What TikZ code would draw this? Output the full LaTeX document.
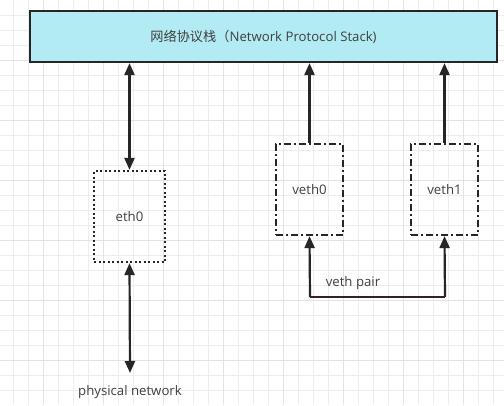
\documentclass[tikz,border=0pt]{standalone}
\usepackage{xcolor}
\usepackage{fontspec}
\setmainfont{Open Sans}
\newfontfamily\cjk{Noto Sans CJK SC}
\usepackage{tikz}
\usetikzlibrary{arrows.meta,positioning,shapes,calc}

\definecolor{stackfill}{RGB}{178,235,243}
\definecolor{linedark}{RGB}{38,38,38}
\definecolor{textgray}{RGB}{64,64,64}
\definecolor{pairline}{RGB}{58,32,36}

\begin{document}
\begin{tikzpicture}[x=1pt,y=-1pt,
  gridminor/.style={draw=black!7,line width=0.8pt},
  gridmajor/.style={draw=black!11,line width=0.8pt},
  stackbox/.style={draw=linedark,line width=2.2pt,fill=stackfill,minimum width=467pt,minimum height=51pt,inner sep=0pt},
  iface/.style={draw=linedark,line width=2.2pt,minimum width=71pt,minimum height=91pt,inner sep=0pt},
  dotbox/.style={iface,dash pattern=on 2pt off 2.5pt},
  dashdotbox/.style={iface,minimum width=67pt,dash pattern=on 7pt off 3pt on 2pt off 3pt},
  to/.style={-{Triangle[length=12pt,width=10pt]},draw=linedark,line width=2.2pt},
  both/.style={to,{Triangle[length=12pt,width=10pt]}-{Triangle[length=12pt,width=10pt]}},
  every node/.style={align=center,font=\fontsize{13.2}{15}\selectfont,text=textgray}]

    \useasboundingbox (0,0) rectangle (504,405);
    \fill[white] (0,0) rectangle (504,405);
    \foreach \i in {0,...,32}
        \draw[gridminor] ({13.3+15*\i},0) -- ++(0,405);
    \foreach \j in {1,...,26}
        \draw[gridminor] (0,{15*\j}) -- ++(504,0);
    \foreach \i in {0,...,7}
        \draw[gridmajor] ({43.3+60*\i},0) -- ++(0,405);
    \foreach \j in {1,...,6}
        \draw[gridmajor] (0,{60*\j}) -- ++(504,0);

    \node[stackbox](stack) at (263.5,36.5) {{\cjk 网络协议栈（}Network Protocol Stack)};
    \node[dotbox](eth0) at (129.5,216.5) {eth0};
    \node[dashdotbox](veth0) at (309.5,189.5) {veth0};
    \node[dashdotbox](veth1) at (444.5,189.5) {veth1};
    \node(phys) at (130,392) {physical network};
    \coordinate (physend) at (130,373);
    \coordinate (pairleft) at (310,297);
    \coordinate (pairright) at (445,297);
    \node(pair) at (353,283) {veth pair};

    \draw[both](eth0.north) -- (eth0.north |- stack.south);
    \draw[both](eth0.south) -- (physend);
    \draw[to](veth0.north) -- (veth0.north |- stack.south);
    \draw[to](veth1.north) -- (veth1.north |- stack.south);
    \draw[draw=pairline,line width=2.2pt](pairleft) -- (pairright);
    \draw[to](pairleft) -- (veth0.south);
    \draw[to](pairright) -- (veth1.south);
\end{tikzpicture}
\end{document}
